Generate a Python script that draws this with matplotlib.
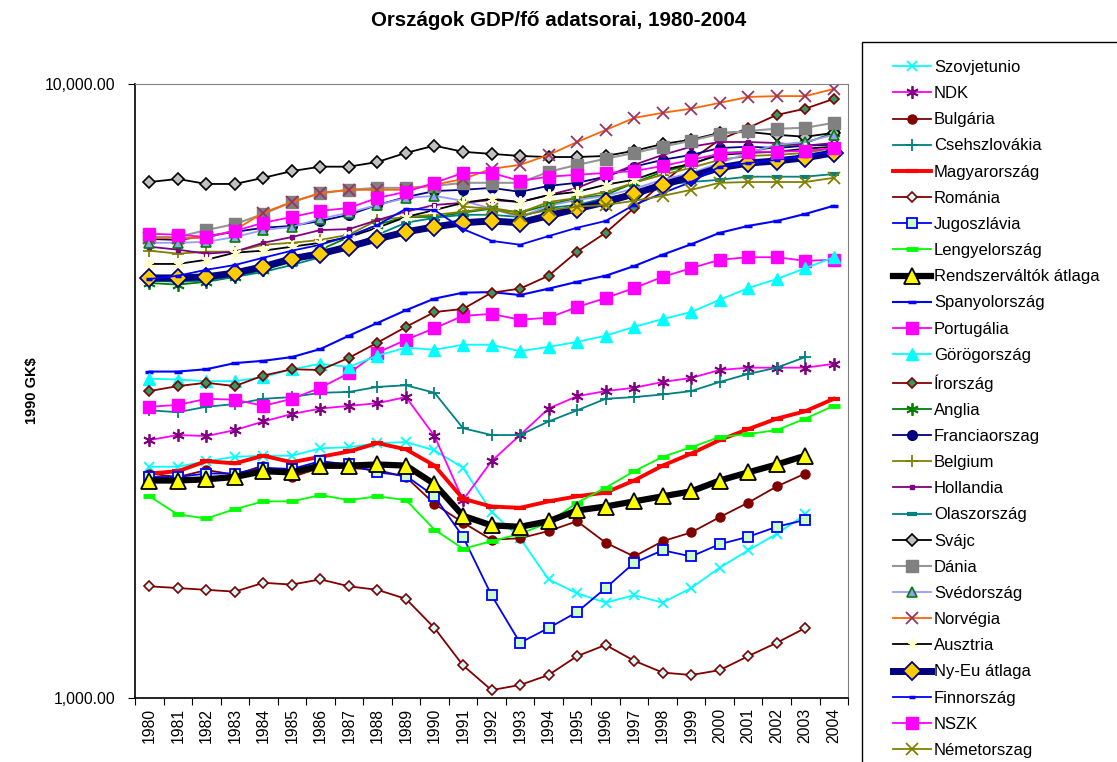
import numpy as np
import matplotlib
matplotlib.use("Agg")
import matplotlib.pyplot as plt
from matplotlib.patches import Rectangle
from matplotlib.ticker import FuncFormatter, NullLocator

plt.rcParams['font.family'] = ['Liberation Sans', 'DejaVu Sans']

nan = np.nan
years = [str(y) for y in range(1980, 2005)]

# GDP per capita, 1990 GK$
szovjetunio = [2380, 2380, 2430, 2470, 2480, 2480, 2550, 2560, 2600, 2610, 2530, 2370, 2010, 1820, 1560, 1480, 1430, 1470, 1430, 1510, 1630, 1740, 1850, 1990, nan]
ndk = [2630, 2680, 2670, 2730, 2820, 2900, 2960, 2990, 3020, 3090, 2670, 2100, 2430, 2680, 2960, 3100, 3160, 3200, 3270, 3320, 3420, 3450, 3450, 3450, 3500]
bulgaria = [2320, 2290, 2350, 2310, 2390, 2290, 2370, 2370, 2350, 2290, 2070, 1930, 1810, 1820, 1870, 1940, 1790, 1700, 1800, 1860, 1970, 2080, 2210, 2320, nan]
csehszlovakia = [2940, 2920, 2980, 3010, 3070, 3090, 3140, 3150, 3210, 3230, 3140, 2750, 2680, 2680, 2820, 2940, 3070, 3090, 3120, 3160, 3270, 3370, 3450, 3590, nan]
magyarorszag = [2320, 2340, 2430, 2410, 2480, 2420, 2470, 2520, 2600, 2540, 2390, 2110, 2050, 2040, 2090, 2130, 2160, 2260, 2390, 2500, 2630, 2740, 2850, 2930, 3070]
romania = [1520, 1510, 1500, 1490, 1540, 1530, 1560, 1520, 1500, 1450, 1300, 1130, 1030, 1050, 1090, 1170, 1220, 1150, 1100, 1090, 1110, 1170, 1230, 1300, nan]
jugoszlavia = [2290, 2290, 2320, 2320, 2370, 2360, 2430, 2400, 2330, 2300, 2130, 1830, 1470, 1230, 1300, 1380, 1510, 1660, 1740, 1700, 1780, 1830, 1900, 1950, nan]
lengyelorszag = [2130, 1990, 1960, 2030, 2090, 2090, 2140, 2100, 2130, 2100, 1880, 1750, 1800, 1850, 1930, 2080, 2200, 2340, 2470, 2560, 2660, 2690, 2730, 2850, 2990]
rendszervaltok = [2260, 2260, 2270, 2290, 2340, 2330, 2390, 2390, 2400, 2390, 2230, 1980, 1910, 1900, 1940, 2020, 2050, 2090, 2130, 2170, 2260, 2330, 2400, 2480, nan]
spanyolorszag = [3400, 3400, 3430, 3510, 3540, 3590, 3700, 3890, 4080, 4280, 4470, 4570, 4580, 4530, 4640, 4760, 4870, 5050, 5270, 5480, 5720, 5870, 5980, 6140, 6330]
portugalia = [2980, 3000, 3070, 3060, 2990, 3070, 3200, 3380, 3650, 3830, 4000, 4190, 4220, 4130, 4160, 4330, 4480, 4650, 4850, 5010, 5170, 5220, 5220, 5150, 5170]
gorogorszag = [3310, 3300, 3280, 3280, 3330, 3430, 3500, 3460, 3610, 3720, 3690, 3760, 3760, 3670, 3730, 3800, 3890, 4020, 4140, 4250, 4450, 4650, 4810, 5010, 5220]
irorszag = [3160, 3220, 3260, 3220, 3350, 3430, 3420, 3580, 3790, 4020, 4250, 4300, 4570, 4640, 4870, 5330, 5720, 6280, 6900, 7520, 8110, 8480, 8900, 9110, 9450]
anglia = [4740, 4710, 4760, 4850, 4980, 5130, 5370, 5630, 5900, 6070, 6070, 6170, 6260, 6170, 6350, 6520, 6590, 6900, 7190, 7380, 7720, 7750, 7900, 8010, 8320]
franciaorszag = [5590, 5570, 5650, 5740, 5830, 5870, 5980, 6120, 6350, 6540, 6690, 6720, 6770, 6670, 6820, 6900, 7060, 7330, 7520, 7660, 7860, 7900, 7860, 7930, 7960]
belgium = [5350, 5290, 5330, 5330, 5470, 5510, 5570, 5680, 6000, 6070, 6120, 6190, 6280, 6170, 6420, 6520, 6670, 6900, 7110, 7300, 7520, 7630, 7660, 7720, 7860]
hollandia = [5430, 5370, 5290, 5330, 5510, 5630, 5780, 5800, 6000, 6190, 6350, 6400, 6470, 6420, 6590, 6770, 7060, 7380, 7660, 7900, 8040, 8040, 8010, 7930, 8010]
olaszorszag = [4780, 4760, 4780, 4850, 4940, 5070, 5220, 5430, 5680, 5940, 6050, 6120, 6120, 6070, 6280, 6350, 6520, 6640, 6850, 6920, 6980, 7060, 7060, 7060, 7130]
svajc = [6920, 7000, 6870, 6870, 7030, 7210, 7330, 7330, 7460, 7720, 7930, 7750, 7690, 7630, 7600, 7600, 7630, 7780, 7980, 8110, 8320, 8350, 8260, 8200, 8320]
dania = [5630, 5630, 5780, 5910, 6140, 6420, 6640, 6720, 6770, 6770, 6820, 6900, 6900, 6900, 7190, 7380, 7550, 7720, 7900, 8080, 8290, 8380, 8450, 8480, 8640]
svedorszag = [5510, 5510, 5530, 5630, 5780, 5850, 6030, 6170, 6350, 6520, 6570, 6450, 6260, 6070, 6330, 6470, 6570, 6750, 6980, 7160, 7430, 7720, 7960, 8040, 8260]
norvegia = [5610, 5610, 5610, 5780, 6170, 6420, 6640, 6720, 6720, 6720, 6850, 7000, 7270, 7380, 7660, 8040, 8410, 8800, 8970, 9110, 9310, 9520, 9550, 9550, 9810]
ausztria = [5090, 5090, 5170, 5310, 5350, 5430, 5510, 5630, 5830, 6070, 6230, 6400, 6500, 6420, 6590, 6670, 6850, 6980, 7240, 7410, 7660, 7720, 7750, 7840, 7900]
nyeu = [4830, 4830, 4850, 4920, 5040, 5190, 5290, 5430, 5590, 5740, 5850, 5940, 5980, 5940, 6100, 6260, 6420, 6620, 6850, 7060, 7300, 7430, 7490, 7580, 7720]
finnorszag = [4810, 4870, 4980, 5070, 5210, 5350, 5470, 5650, 5890, 6260, 6230, 5800, 5550, 5470, 5650, 5830, 5980, 6350, 6640, 6920, 7330, 7430, 7520, 7630, 7750]
nszk = [5700, 5680, 5630, 5760, 5940, 6070, 6210, 6280, 6520, 6670, 6900, 7160, 7160, 6950, 7060, 7110, 7160, 7210, 7350, 7520, 7690, 7750, 7750, 7780, 7860]
nemetorszag = [nan] * 11 + [6310, 6260, 6100, 6230, 6310, 6350, 6450, 6570, 6720, 6900, 6920, 6920, 6920, 7030]

asterisk = (6, 2, 0)

# (label, data, style)
series = [
    ("Szovjetunio", szovjetunio, dict(color='#00FFFF', lw=1.3, marker='x', ms=7, mec='#00FFFF', mew=1.3)),
    ("NDK", ndk, dict(color='#FF00FF', lw=1.3, marker=asterisk, ms=9, mec='#800080', mew=1.3)),
    ("Bulgária", bulgaria, dict(color='#800000', lw=1.3, marker='o', ms=6.5, mfc='#800000', mec='#800000')),
    ("Csehszlovákia", csehszlovakia, dict(color='#008080', lw=1.3, marker='+', ms=8, mec='#008080', mew=1.3)),
    ("Magyarország", magyarorszag, dict(color='#FF0000', lw=2.8, marker='_', ms=9, mec='#FF0000', mew=3)),
    ("Románia", romania, dict(color='#800000', lw=1.3, marker='D', ms=5.5, mfc='#CCFFFF', mec='#800000', mew=1.2)),
    ("Jugoszlávia", jugoszlavia, dict(color='#0000FF', lw=1.3, marker='s', ms=7, mfc='#CCFFCC', mec='#0000FF', mew=1.3)),
    ("Lengyelország", lengyelorszag, dict(color='#00FF00', lw=1.3, marker='_', ms=9, mec='#00FF00', mew=3.5)),
    ("Rendszerváltók átlaga", rendszervaltok, dict(color='#000000', lw=4.5, marker='^', ms=11, mfc='#FFFF00', mec='#000000', mew=1.3)),
    ("Spanyolország", spanyolorszag, dict(color='#0000FF', lw=1.5, marker='_', ms=6, mec='#0000FF', mew=2.5)),
    ("Portugália", portugalia, dict(color='#FF00FF', lw=1.3, marker='s', ms=8, mfc='#FF00FF', mec='#FF00FF')),
    ("Görögország", gorogorszag, dict(color='#00FFFF', lw=1.3, marker='^', ms=8, mfc='#00FFFF', mec='#00FFFF')),
    ("Írország", irorszag, dict(color='#800000', lw=1.3, marker='D', ms=5.5, mfc='#339966', mec='#800000', mew=1.2)),
    ("Anglia", anglia, dict(color='#008000', lw=1.3, marker=asterisk, ms=9, mec='#008000', mew=1.3)),
    ("Franciaorszag", franciaorszag, dict(color='#000080', lw=1.3, marker='o', ms=7, mfc='#000080', mec='#000080')),
    ("Belgium", belgium, dict(color='#808000', lw=1.3, marker='+', ms=8, mec='#808000', mew=1.3)),
    ("Hollandia", hollandia, dict(color='#800080', lw=1.3, marker='s', ms=3.5, mfc='#800080', mec='#800080')),
    ("Olaszország", olaszorszag, dict(color='#008080', lw=1.3, marker='_', ms=7, mec='#008080', mew=3)),
    ("Svájc", svajc, dict(color='#000000', lw=1.3, marker='D', ms=6, mfc='#C0C0C0', mec='#000000', mew=1.2)),
    ("Dánia", dania, dict(color='#969696', lw=1.5, marker='s', ms=8, mfc='#808080', mec='#808080')),
    ("Svédország", svedorszag, dict(color='#9999FF', lw=1.3, marker='^', ms=7, mfc='#9999FF', mec='#008000', mew=1.2)),
    ("Norvégia", norvegia, dict(color='#FF6600', lw=1.3, marker='x', ms=8, mec='#993366', mew=1.3)),
    ("Ausztria", ausztria, dict(color='#000000', lw=1.3, marker=asterisk, ms=9, mec='#FFFFCC', mew=1.5)),
    ("Ny-Eu átlaga", nyeu, dict(color='#000080', lw=5, marker='D', ms=9, mfc='#FFCC00', mec='#000080', mew=1.3)),
    ("Finnország", finnorszag, dict(color='#0000FF', lw=1.3, marker='_', ms=5, mec='#0000FF', mew=2.5)),
    ("NSZK", nszk, dict(color='#FF00FF', lw=1.3, marker='s', ms=8, mfc='#FF00FF', mec='#FF00FF')),
    ("Németorszag", nemetorszag, dict(color='#808000', lw=1.3, marker='x', ms=8, mec='#808000', mew=1.3)),
]

fig = plt.figure(figsize=(11.17, 7.62), dpi=100)
ax = fig.add_axes([0.1209, 0.084, 0.6383, 0.806])

x = np.arange(len(years))
handles = []
for label, vals, st in series:
    line, = ax.plot(x, np.array(vals, dtype=float), label=label, **st)
    handles.append(line)

ax.set_yscale('log')
ax.set_ylim(1000, 10000)
ax.set_yticks([1000, 10000])
ax.yaxis.set_major_formatter(FuncFormatter(lambda v, p: f'{v:,.2f}'))
ax.yaxis.set_minor_locator(NullLocator())
ax.tick_params(axis='y', which='major', length=5, labelsize=11.3, direction='out', pad=9)

ax.set_xlim(-0.5, len(years) - 0.5)
ax.set_xticks(np.arange(-0.5, len(years), 1))
ax.set_xticklabels([])
ax.set_xticks(x, labels=years, minor=True)
ax.tick_params(axis='x', which='major', length=5, direction='out')
ax.tick_params(axis='x', which='minor', length=0, labelsize=11.3, labelrotation=90, pad=7)

for side in ['top', 'right']:
    ax.spines[side].set_color('#808080')
ax.spines['left'].set_linewidth(1.2)
ax.spines['bottom'].set_linewidth(1.2)

ax.set_ylabel('1990 GK$', fontsize=10.5, fontweight='bold', labelpad=4)
fig.text(0.5, 1 - 21 / 762, 'Országok GDP/fő adatsorai, 1980-2004',
         ha='center', va='center', fontsize=14.8, fontweight='bold')

# legend frame runs off the bottom/right edge like the original
fig.patches.append(Rectangle((862 / 1117, -0.02), 0.3, 1 - 42 / 762 + 0.02,
                             transform=fig.transFigure, fill=False,
                             edgecolor='black', lw=1))
fig.legend(handles=handles, loc='upper left',
           bbox_to_anchor=(893 / 1117, 1 - 60 / 762),
           frameon=False, fontsize=12, numpoints=1, handlelength=2.3,
           handletextpad=0.15, labelspacing=0.67, borderpad=0, borderaxespad=0)

fig.savefig('out.png', dpi=100)
